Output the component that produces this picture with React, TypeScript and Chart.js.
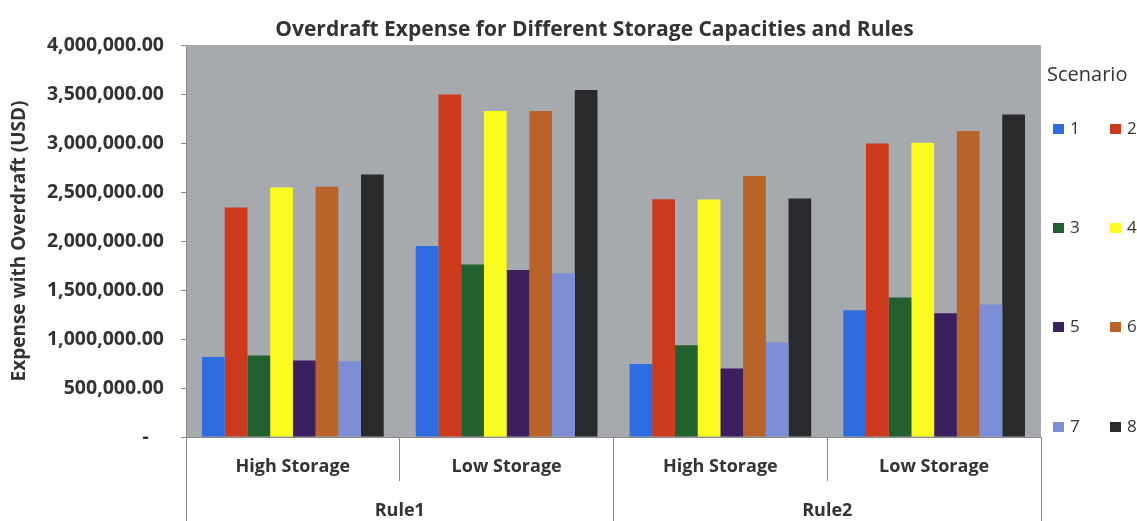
import React, { useEffect, useRef } from "react";
import { Chart, registerables } from "chart.js";

Chart.register(...registerables);

// Storage level for each bar group, and the rule each pair of groups belongs to
const storageLevels = ["High Storage", "Low Storage", "High Storage", "Low Storage"];
const rules = ["Rule1", "Rule2"];

// Scenario names and overdraft expense (USD) per group
const scenarioNames = ["1", "2", "3", "4", "5", "6", "7", "8"];
const scenario1 = [817000, 1950000, 745000, 1294000];
const scenario2 = [2342000, 3496000, 2427000, 2996000];
const scenario3 = [831000, 1760000, 936000, 1423000];
const scenario4 = [2547000, 3326000, 2424000, 3002000];
const scenario5 = [780000, 1705000, 698000, 1263000];
const scenario6 = [2553000, 3326000, 2662000, 3122000];
const scenario7 = [773000, 1672000, 964000, 1352000];
const scenario8 = [2679000, 3540000, 2434000, 3292000];
const scenarioValues = [scenario1, scenario2, scenario3, scenario4, scenario5, scenario6, scenario7, scenario8];

const scenarioColors = [
  "#2f6ce0",
  "#cb3a1d",
  "#23602f",
  "#fbfb22",
  "#3b1f5e",
  "#b9632b",
  "#7c8ed6",
  "#282a2b",
];

const yMax = 4000000;
const yStep = 500000;

const titleText = "Overdraft Expense for Different Storage Capacities and Rules";
const yTitleText = "Expense with Overdraft (USD)";
const legendTitle = "Scenario";

const FONT = "'Open Sans', 'DejaVu Sans', sans-serif";
const TEXT = "#333333";
const AXIS = "#8a8a8a";

const formatMoney = (v: number) =>
  v === 0
    ? "-   "
    : v.toLocaleString("en-US", { minimumFractionDigits: 2, maximumFractionDigits: 2 });

// Gray fill behind the bars
const plotBackground = {
  id: "plotBackground",
  beforeDraw(chart: Chart) {
    const { ctx, chartArea } = chart;
    ctx.save();
    ctx.fillStyle = "#a6a9ae";
    ctx.fillRect(chartArea.left, chartArea.top, chartArea.right - chartArea.left, chartArea.bottom - chartArea.top);
    ctx.restore();
  },
};

// Title above the plot and the two-column scenario legend on the right
const titleAndLegend = {
  id: "titleAndLegend",
  afterDraw(chart: Chart) {
    const { ctx, chartArea } = chart;
    ctx.save();
    ctx.fillStyle = TEXT;
    ctx.textBaseline = "middle";
    ctx.textAlign = "center";
    ctx.font = `bold 21px ${FONT}`;
    ctx.fillText(titleText, (chartArea.left + chartArea.right) / 2 - 19, 30);

    const lx = chartArea.right + 6;
    ctx.textAlign = "left";
    ctx.font = `20px ${FONT}`;
    ctx.fillText(legendTitle, lx, 75);

    const rowYs = [129, 228, 327, 427];
    const colXs = [lx + 6, lx + 63];
    ctx.font = `17px ${FONT}`;
    chart.data.datasets.forEach((ds, i) => {
      const row = Math.floor(i / 2);
      const col = i % 2;
      const x = colXs[col];
      const y = rowYs[row];
      ctx.fillStyle = ds.backgroundColor as string;
      ctx.fillRect(x, y - 5, 11, 10);
      ctx.fillStyle = TEXT;
      ctx.fillText(String(ds.label), x + 17, y);
    });
    ctx.restore();
  },
};

export default function App() {
  const canvasRef = useRef<HTMLCanvasElement | null>(null);

  useEffect(() => {
    if (!canvasRef.current) return;
    const chart = new Chart(canvasRef.current, {
      type: "bar",
      data: {
        labels: storageLevels,
        datasets: scenarioNames.map((name, i) => ({
          label: name,
          data: scenarioValues[i],
          backgroundColor: scenarioColors[i],
          borderWidth: 0,
          categoryPercentage: 0.85,
          barPercentage: 1.0,
        })),
      },
      options: {
        animation: false,
        responsive: true,
        maintainAspectRatio: false,
        layout: { padding: { top: 45, right: 96, bottom: 0, left: 0 } },
        plugins: {
          legend: { display: false },
          title: { display: false },
          tooltip: { enabled: false },
        },
        scales: {
          x: {
            type: "category",
            position: "bottom",
            weight: 0,
            grid: { offset: true, drawOnChartArea: false, tickLength: 44, color: AXIS },
            border: { display: true, color: AXIS },
            ticks: {
              padding: -25,
              color: TEXT,
              font: { family: FONT, weight: "bold", size: 18 },
              maxRotation: 0,
            },
            afterFit: (s: any) => {
              s.height = 44;
            },
          },
          x2: {
            type: "category",
            position: "bottom",
            weight: 1,
            labels: rules,
            offset: true,
            grid: { offset: true, drawOnChartArea: false, tickLength: 40, color: AXIS },
            border: { display: false },
            ticks: {
              padding: -21,
              color: TEXT,
              font: { family: FONT, weight: "bold", size: 18 },
              maxRotation: 0,
            },
            afterFit: (s: any) => {
              s.height = 40;
            },
          },
          y: {
            min: 0,
            max: yMax,
            grid: { drawOnChartArea: false, tickLength: 5, color: AXIS },
            border: { display: true, color: AXIS },
            ticks: {
              stepSize: yStep,
              padding: 17,
              color: TEXT,
              font: { family: FONT, weight: "bold", size: 19.5 },
              callback: (v: any) => formatMoney(Number(v)),
            },
            title: {
              display: true,
              text: yTitleText,
              color: TEXT,
              font: { family: FONT, weight: "bold", size: 19 },
              padding: { top: 8, bottom: 0 },
            },
            afterFit: (s: any) => {
              s.width = 186;
            },
          },
        },
      },
      plugins: [plotBackground, titleAndLegend],
    });
    return () => chart.destroy();
  }, []);

  return (
    <div style={{ position: "fixed", left: 0, top: 0, width: 1137, height: 521, background: "#ffffff" }}>
      <canvas ref={canvasRef} />
    </div>
  );
}
